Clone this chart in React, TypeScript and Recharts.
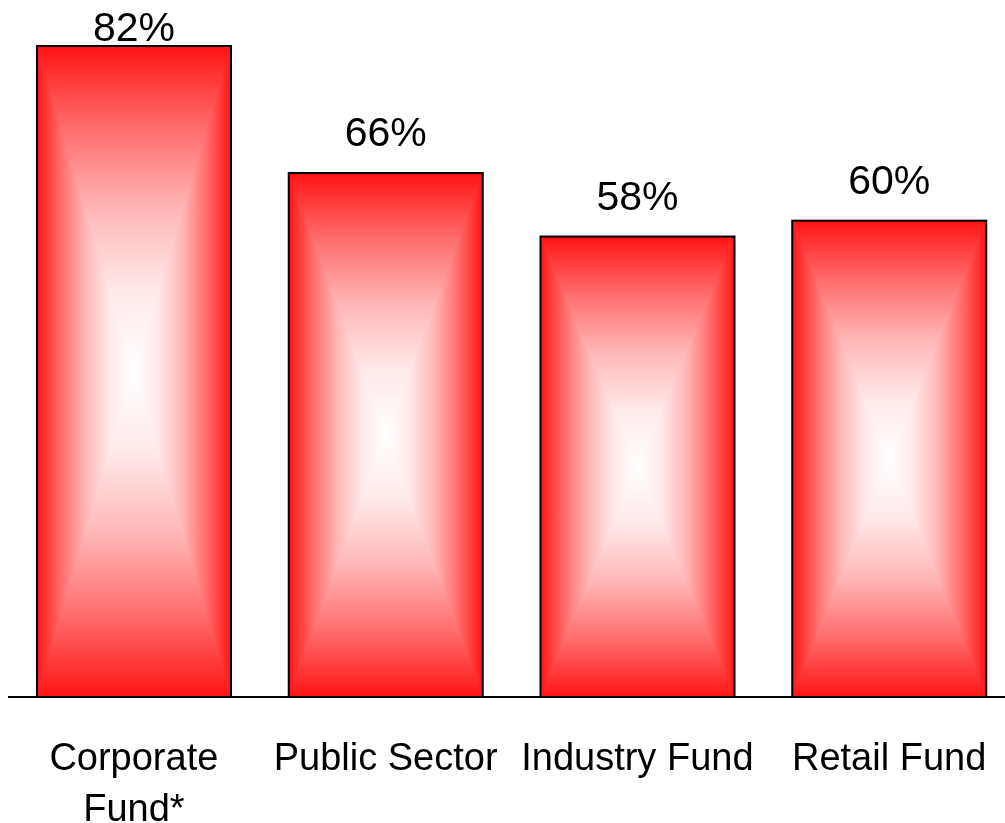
import React from "react";
import { BarChart, Bar, XAxis, YAxis, LabelList } from "recharts";

const categories = ["Corporate\nFund*", "Public Sector", "Industry Fund", "Retail Fund"];
const values = [82, 66, 58, 60];
const valueLabels = ["82%", "66%", "58%", "60%"];

const data = categories.map((c, i) => ({ name: c, value: values[i], label: valueLabels[i] }));

const RED = "#ff1414";
const FONT = "'Liberation Sans', Arial, sans-serif";

const GradBar = (props: any) => {
  const { x, y, width, height } = props;
  if (!width || !height) return null;
  const cx = x + width / 2;
  const cy = y + height / 2;
  return (
    <g>
      <rect x={x} y={y} width={width} height={height} fill="url(#vgrad)" />
      <polygon points={`${x},${y} ${cx},${cy} ${x},${y + height}`} fill="url(#lgrad)" />
      <polygon points={`${x + width},${y} ${cx},${cy} ${x + width},${y + height}`} fill="url(#rgrad)" />
      <rect x={x} y={y} width={width} height={height} fill="none" stroke="#000" strokeWidth={2} />
    </g>
  );
};

const ValueLabel = (props: any) => {
  const { x, y, width, value } = props;
  const by = Math.max(y - 27, 33);
  return (
    <text x={x + width / 2} y={by} textAnchor="middle" fontFamily={FONT} fontSize={41} fill="#000">
      {value}
    </text>
  );
};

const CatTick = (props: any) => {
  const { x, y, payload } = props;
  const lines = String(payload.value).split("\n");
  return (
    <text x={x} y={y} textAnchor="middle" fontFamily={FONT} fontSize={38} fill="#000">
      {lines.map((l, i) => (
        <tspan key={i} x={x} dy={i === 0 ? 65 : 51}>
          {l}
        </tspan>
      ))}
    </text>
  );
};

const stopsHalf = [
  { o: 0, c: RED },
  { o: 0.25, c: "#ff6c6c" },
  { o: 0.5, c: "#ffb6b6" },
  { o: 0.75, c: "#ffe8e8" },
  { o: 1, c: "#ffffff" },
];

export default function App() {
  return (
    <div style={{ position: "fixed", left: 8, top: 8, width: 997, height: 815, overflow: "hidden" }}>
      <BarChart
        width={997}
        height={815}
        data={data}
        margin={{ top: 38, right: -10, left: 0, bottom: 0 }}
        barSize={194}
      >
        <defs>
          <linearGradient id="vgrad" x1="0" y1="0" x2="0" y2="1">
            {stopsHalf.map((s, i) => (
              <stop key={"a" + i} offset={s.o / 2} stopColor={s.c} />
            ))}
            {stopsHalf
              .slice(0, 4)
              .reverse()
              .map((s, i) => (
                <stop key={"b" + i} offset={1 - s.o / 2} stopColor={s.c} />
              ))}
          </linearGradient>
          <linearGradient id="lgrad" x1="0" y1="0" x2="1" y2="0">
            {stopsHalf.map((s, i) => (
              <stop key={i} offset={s.o} stopColor={s.c} />
            ))}
          </linearGradient>
          <linearGradient id="rgrad" x1="1" y1="0" x2="0" y2="0">
            {stopsHalf.map((s, i) => (
              <stop key={i} offset={s.o} stopColor={s.c} />
            ))}
          </linearGradient>
        </defs>
        <XAxis
          dataKey="name"
          height={126}
          tickLine={false}
          axisLine={{ stroke: "#000", strokeWidth: 2 }}
          tick={<CatTick />}
          interval={0}
        />
        <YAxis hide domain={[0, 82]} />
        <Bar dataKey="value" shape={<GradBar />} isAnimationActive={false}>
          <LabelList dataKey="label" content={<ValueLabel />} />
        </Bar>
      </BarChart>
    </div>
  );
}
